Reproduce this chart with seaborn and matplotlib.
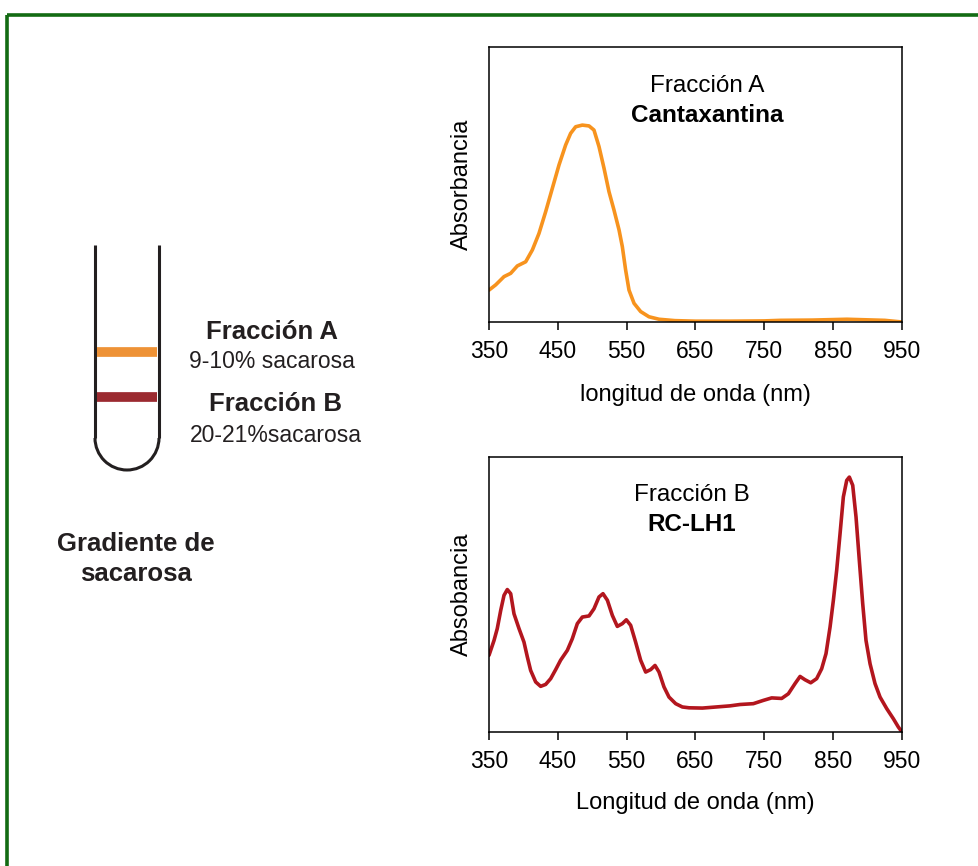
import matplotlib
matplotlib.use("Agg")
import matplotlib.pyplot as plt
import seaborn as sns
import numpy as np
import pandas as pd
from matplotlib.patches import Rectangle, Arc

sns.set_style("white")
plt.rcParams['font.family'] = ['Liberation Sans', 'DejaVu Sans']

# ---------------- data ----------------
wl_a = [350, 359.7, 371.8, 381.5, 391.2, 403.3, 413, 422.6, 432.3, 442, 451.7, 461.4, 468.6,
        475.9, 485.6, 495.3, 502.5, 509.8, 517.1, 524.3, 531.6, 538.9, 543.7, 548.5, 553.4,
        560.7, 570.3, 582.4, 597, 620, 650, 700, 750, 773, 820, 870, 925, 950]
abs_a = [0.116, 0.135, 0.165, 0.177, 0.204, 0.219, 0.262, 0.322, 0.401, 0.486, 0.571, 0.644,
         0.686, 0.71, 0.716, 0.713, 0.698, 0.638, 0.559, 0.474, 0.407, 0.335, 0.274, 0.189,
         0.116, 0.068, 0.038, 0.019, 0.01, 0.005, 0.003, 0.003, 0.004, 0.006, 0.007, 0.01,
         0.006, 0.0]

wl_b = [350, 357.3, 362, 367, 371.8, 376.6, 381.5, 386.3, 393.6, 400.8, 405.7, 410.5, 417.8,
        425, 432.3, 439.6, 446.9, 454, 463.8, 471, 478.3, 485.6, 495.3, 502.5, 509.8, 515.6,
        522, 529.2, 536.4, 543.7, 549.5, 555.8, 563, 570.3, 577.6, 584.9, 591.2, 597, 604.2,
        611.5, 621.2, 630.9, 640.6, 660, 685, 700, 714.7, 734, 748.6, 760.7, 775.2, 784.9,
        794.6, 801.9, 809.1, 817.4, 826, 833.3, 839.6, 845.5, 850.3, 855.1, 860, 864.8, 869.7,
        873.5, 878.4, 883.2, 888, 892.9, 897.7, 903.6, 910.8, 918.1, 927.8, 937.5, 944.7, 950]
abs_b = [0.279, 0.333, 0.376, 0.442, 0.497, 0.518, 0.503, 0.43, 0.376, 0.327, 0.273, 0.224,
         0.182, 0.166, 0.173, 0.194, 0.227, 0.261, 0.297, 0.339, 0.394, 0.418, 0.422, 0.448,
         0.491, 0.503, 0.479, 0.424, 0.384, 0.394, 0.408, 0.388, 0.327, 0.261, 0.218, 0.227,
         0.242, 0.218, 0.164, 0.127, 0.103, 0.091, 0.088, 0.087, 0.092, 0.095, 0.1, 0.103,
         0.115, 0.124, 0.122, 0.139, 0.176, 0.202, 0.19, 0.179, 0.194, 0.23, 0.285, 0.382,
         0.479, 0.588, 0.721, 0.855, 0.915, 0.927, 0.897, 0.782, 0.624, 0.467, 0.333, 0.248,
         0.176, 0.127, 0.085, 0.048, 0.018, 0.0]

xticks = [350, 450, 550, 650, 750, 850, 950]
fractions = ["Fracción A", "Fracción B"]
sucrose = ["9-10% sacarosa", "20-21%sacarosa"]
compounds = ["Cantaxantina", "RC-LH1"]
xlabels = ["longitud de onda (nm)", "Longitud de onda (nm)"]
ylabels = ["Absorbancia", "Absobancia"]
colors = ["#F7931E", "#B3161E"]
band_colors = ["#EE9236", "#9B2A30"]

W, H = 979, 866
fig = plt.figure(figsize=(W / 100, H / 100), dpi=100)

# background overlay in pixel coordinates
bg = fig.add_axes([0, 0, 1, 1])
bg.set_xlim(0, W)
bg.set_ylim(H, 0)
bg.axis("off")
bg.add_patch(Rectangle((7.5, 14.5), W + 20, H + 20, fill=False, ec="#136B13", lw=2.6))

ink = "#231F20"
# test tube
bg.plot([95, 95], [245, 438], color=ink, lw=2.2, solid_capstyle="butt")
bg.plot([159, 159], [245, 438], color=ink, lw=2.2, solid_capstyle="butt")
bg.add_patch(Arc((127, 438), 64, 64, theta1=0, theta2=180, color=ink, lw=2.2))
band_y = [352, 397]
for y, c in zip(band_y, band_colors):
    bg.plot([97, 157.5], [y, y], color=c, lw=7, solid_capstyle="butt")

text_pos = [(272, 332, 361), (276, 404, 435)]
for (x, y1, y2), fr, su in zip(text_pos, fractions, sucrose):
    bg.text(x, y1, fr, ha="center", va="center", fontsize=18.5, fontweight="bold", color=ink)
    bg.text(x, y2, su, ha="center", va="center", fontsize=16.5, color=ink)
bg.text(136, 559, "Gradiente de\nsacarosa", ha="center", va="center", fontsize=18.5,
        fontweight="bold", color=ink, linespacing=1.3)

# spectra panels
axes_rect = [[489 / W, 1 - 322 / H, 413 / W, 275 / H],
             [489 / W, 1 - 732 / H, 413 / W, 275 / H]]
data = [(wl_a, abs_a), (wl_b, abs_b)]
title_pos = [(0.528, 0.857, 0.752), (0.4915, 0.861, 0.756)]
xlabel_y = [-0.227, -0.217]

for i in range(2):
    ax = fig.add_axes(axes_rect[i])
    df = pd.DataFrame({"wl": data[i][0], "abs": data[i][1]})
    sns.lineplot(data=df, x="wl", y="abs", ax=ax, color=colors[i], lw=2.6, sort=False)
    ax.set_xlim(350, 950)
    ax.set_ylim(0, 1)
    ax.set_xticks(xticks)
    ax.set_xticklabels([str(t) for t in xticks])
    ax.set_yticks([])
    ax.tick_params(axis="x", direction="out", length=6, width=1.1, pad=7,
                   labelsize=16.5, colors="black", bottom=True)
    for s in ax.spines.values():
        s.set_color("black")
        s.set_linewidth(1.1)
    ax.set_xlabel(xlabels[i], fontsize=17, color="black")
    ax.xaxis.set_label_coords(0.5, xlabel_y[i])
    ax.set_ylabel(ylabels[i], fontsize=17, color="black")
    ax.yaxis.set_label_coords(-0.04, 0.5)
    tx, ty1, ty2 = title_pos[i]
    ax.text(tx, ty1, fractions[i], transform=ax.transAxes, ha="center", va="center",
            fontsize=17.5, color="black")
    ax.text(tx, ty2, compounds[i], transform=ax.transAxes, ha="center", va="center",
            fontsize=17.5, fontweight="bold", color="black")

fig.savefig("out.png", dpi=100)
